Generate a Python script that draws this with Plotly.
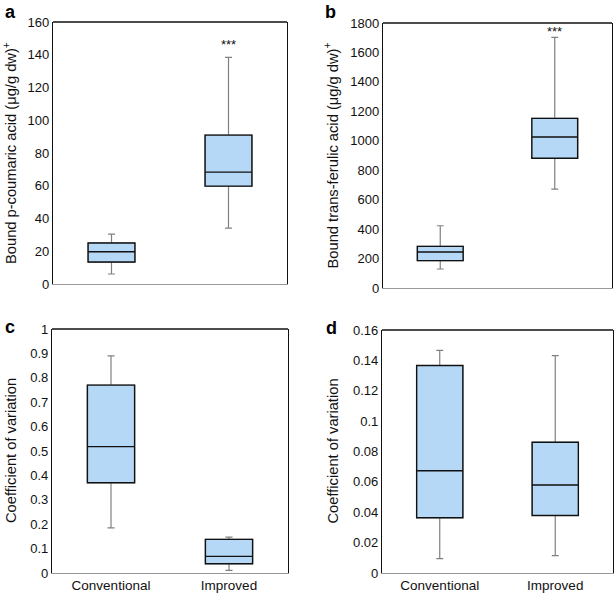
import plotly.graph_objs as go

groups = ['Conventional', 'Improved']

# panel a - bound p-coumaric acid
a_low = [6.1, 34.1]
a_q1 = [13.4, 59.8]
a_med = [19.7, 68.3]
a_q3 = [25.0, 90.9]
a_high = [30.5, 138.4]

# panel b - bound trans-ferulic acid
b_low = [129, 672]
b_q1 = [186, 881]
b_med = [245, 1026]
b_q3 = [283, 1152]
b_high = [423, 1703]

# panel c - coefficient of variation
c_low = [0.185, 0.011]
c_q1 = [0.370, 0.038]
c_med = [0.518, 0.068]
c_q3 = [0.770, 0.138]
c_high = [0.890, 0.147]

# panel d - coefficient of variation
d_low = [0.0094, 0.0114]
d_q1 = [0.0364, 0.0379]
d_med = [0.0673, 0.0579]
d_q3 = [0.1366, 0.0861]
d_high = [0.1466, 0.1431]

# significance stars (panels a and b, over Improved)
stars_y = {'a': 146, 'b': 1745}

panels = [
    ('a', a_low, a_q1, a_med, a_q3, a_high),
    ('b', b_low, b_q1, b_med, b_q3, b_high),
    ('c', c_low, c_q1, c_med, c_q3, c_high),
    ('d', d_low, d_q1, d_med, d_q3, d_high),
]

W, H = 615, 598
FILL = '#b5d8f7'
FONT = 'Liberation Sans, Arial, sans-serif'
TXT = '#111'

# plot frames in pixels: left, right, top, bottom
frames = {
    'a': (53, 287, 22, 284),
    'b': (383, 612, 23, 288),
    'c': (52, 288, 329, 573),
    'd': (382, 613, 330, 573),
}

fig = go.Figure()
layout = dict(
    width=W, height=H,
    margin=dict(l=0, r=0, t=0, b=0, pad=0),
    paper_bgcolor='white', plot_bgcolor='white',
    showlegend=False, boxmode='overlay',
    font=dict(family=FONT, size=13, color=TXT),
    annotations=[], shapes=[],
)

for i, (key, low, q1, med, q3, high) in enumerate(panels):
    n = '' if i == 0 else str(i + 1)
    xa, ya = 'x' + n, 'y' + n
    # whiskers (gray)
    fig.add_trace(go.Box(
        x=groups, q1=q1, median=med, q3=q3, lowerfence=low, upperfence=high,
        width=0.4, whiskerwidth=0.15, fillcolor=FILL,
        line=dict(color='#808080', width=1.2),
        xaxis=xa, yaxis=ya, hoverinfo='skip',
    ))
    # box outline and median (black)
    fig.add_trace(go.Box(
        x=groups, q1=q1, median=med, q3=q3, lowerfence=q1, upperfence=q3,
        width=0.4, whiskerwidth=0, fillcolor=FILL,
        line=dict(color='#111', width=1.4),
        xaxis=xa, yaxis=ya, hoverinfo='skip',
    ))

    l, r, t, b = frames[key]
    xdom = [l / W, r / W]
    ydom = [1 - b / H, 1 - t / H]
    show_x = key in ('c', 'd')
    layout['xaxis' + n] = dict(
        domain=xdom, anchor=ya, type='category', range=[-0.5, 1.5],
        showline=True, linecolor='#999', linewidth=1, mirror=False,
        showgrid=False, ticks='', showticklabels=show_x, automargin=False,
        tickfont=dict(size=13.5, color=TXT), fixedrange=True,
    )
    layout['shapes'].append(dict(
        type='line', xref=xa + ' domain', yref=ya + ' domain',
        x0=0, x1=1, y0=1, y1=1, line=dict(color='#111', width=1.3),
    ))
    if key == 'a':
        yrng, tv = [0, 160], list(range(0, 161, 20))
        tt = [str(v) for v in tv]
        title = 'Bound p-coumaric acid (μg/g dw)<sup>+</sup>'
    elif key == 'b':
        yrng, tv = [0, 1800], list(range(0, 1801, 200))
        tt = [str(v) for v in tv]
        title = 'Bound trans-ferulic acid (μg/g dw)<sup>+</sup>'
    elif key == 'c':
        yrng, tv = [0, 1], [k / 10 for k in range(11)]
        tt = ['0', '0.1', '0.2', '0.3', '0.4', '0.5', '0.6', '0.7', '0.8', '0.9', '1']
        title = 'Coefficient of variation'
    else:
        yrng, tv = [0, 0.16], [k / 50 for k in range(9)]
        tt = ['0', '0.02', '0.04', '0.06', '0.08', '0.1', '0.12', '0.14', '0.16']
        title = 'Coefficient of variation'
    layout['yaxis' + n] = dict(
        domain=ydom, anchor=xa, range=yrng, tickvals=tv, ticktext=tt,
        showline=True, linecolor='#111', linewidth=1.3, mirror=True,
        showgrid=False, zeroline=False, ticks='', ticklen=0, automargin=False,
        tickfont=dict(size=13, color=TXT), fixedrange=True,
    )
    # y-axis title
    tx = {'a': 10, 'b': 331, 'c': 11, 'd': 332}[key]
    layout['annotations'].append(dict(
        text=title, textangle=-90, xref='paper', yref='paper',
        x=tx / W, y=(ydom[0] + ydom[1]) / 2, showarrow=False,
        xanchor='center', yanchor='middle',
        font=dict(size=14.7, color=TXT),
    ))
    # panel letter
    lx, ly = {'a': (10, 12), 'b': (330, 12), 'c': (10, 327), 'd': (331, 328)}[key]
    layout['annotations'].append(dict(
        text='<b>' + key + '</b>', xref='paper', yref='paper',
        x=lx / W, y=1 - ly / H, showarrow=False,
        xanchor='center', yanchor='middle',
        font=dict(size=18, color='#000'),
    ))
    if key in stars_y:
        layout['annotations'].append(dict(
            text='***', xref=xa, yref=ya, x=groups[1], y=stars_y[key],
            showarrow=False, xanchor='center', yanchor='middle',
            font=dict(size=13, color=TXT),
        ))

fig.update_layout(**layout)
# drop the page's default body margin so the figure sits at the window corner
fig.write_html("out.html", config={'displayModeBar': False},
               post_script="document.body.style.margin='0';")
